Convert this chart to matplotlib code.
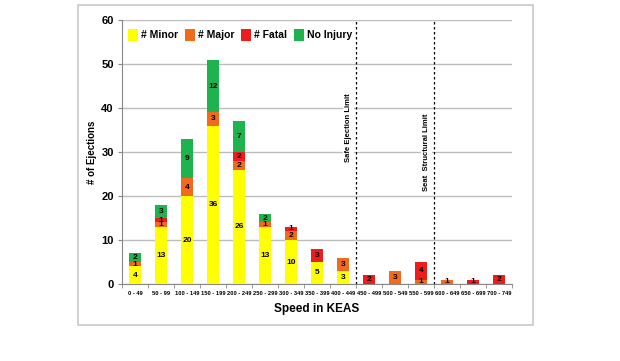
import numpy as np
import matplotlib.pyplot as plt
from matplotlib.patches import Rectangle

cats = ['0 - 49', '50 - 99', '100 - 149', '150 - 199', '200 - 249', '250 - 299',
        '300 - 349', '350 - 399', '400 - 449', '450 - 499', '500 - 549',
        '550 - 599', '600 - 649', '650 - 699', '700 - 749']
minor = [4, 13, 20, 36, 26, 13, 10, 5, 3, 0, 0, 0, 0, 0, 0]
major = [1, 1, 4, 3, 2, 1, 2, 0, 3, 0, 3, 1, 1, 0, 0]
fatal = [0, 1, 0, 0, 2, 0, 1, 3, 0, 2, 0, 4, 0, 1, 2]
no_injury = [2, 3, 9, 12, 7, 2, 0, 0, 0, 0, 0, 0, 0, 0, 0]

series = [('# Minor', minor, '#ffff00'),
          ('# Major', major, '#f26b1d'),
          ('# Fatal', fatal, '#ee1c1c'),
          ('No Injury', no_injury, '#1db34f')]

plt.rcParams['font.family'] = ['Liberation Sans', 'DejaVu Sans']

fig = plt.figure(figsize=(6.2, 3.61), dpi=100)
fig.patches.append(Rectangle((78 / 620, 1 - 325 / 361), (533 - 78) / 620, (325 - 5) / 361,
                             transform=fig.transFigure, fill=False,
                             edgecolor='#c8c8c8', lw=1.2))
ax = fig.add_axes([122 / 620, 1 - 284 / 361, (512 - 122) / 620, (284 - 20) / 361])

x = np.arange(len(cats))
bottom = np.zeros(len(cats))
for name, vals, col in series:
    vals = np.array(vals)
    ax.bar(x, vals, 0.46, bottom=bottom, color=col, label=name, zorder=3)
    for xi, v, b in zip(x, vals, bottom):
        if v > 0:
            ax.text(xi, b + v / 2, str(v), ha='center', va='center',
                    fontsize=6, fontweight='bold', zorder=4)
    bottom += vals

ax.set_xlim(-0.5, len(cats) - 0.5)
ax.set_ylim(0, 60)
ax.set_yticks(range(0, 61, 10))
ax.yaxis.grid(True, color='#bdbdbd', lw=1, zorder=0)
ax.set_xticks(x)
ax.set_xticklabels(cats, fontsize=4.15, fontweight='bold')
ax.set_xticks(np.arange(-0.5, len(cats), 1), minor=True)
ax.tick_params(axis='x', which='major', length=0, pad=5)
ax.tick_params(axis='x', which='minor', length=3, color='#888888')
ax.tick_params(axis='y', labelsize=8, length=3, color='#888888', pad=3)
for t in ax.get_yticklabels():
    t.set_fontweight('bold')
for s in ['top', 'right']:
    ax.spines[s].set_visible(False)
ax.spines['left'].set_color('#888888')
ax.spines['bottom'].set_color('#888888')

ax.set_ylabel('# of Ejections', fontsize=7, fontweight='bold', labelpad=3)
ax.set_xlabel('Speed in KEAS', fontsize=8.5, fontweight='bold', labelpad=5)

for xv, label, ytxt in [(8.5, 'Safe Ejection Limit', 35.5), (11.5, 'Seat  Structural Limit', 30)]:
    ax.axvline(xv, color='black', ls=(0, (2, 2)), lw=0.9, zorder=5)
    ax.text(xv - 0.3, ytxt, label, rotation=90, ha='center', va='center',
            fontsize=5.5, fontweight='bold', zorder=4,
            bbox=dict(facecolor='white', edgecolor='none', pad=1.5))

leg = ax.legend(loc='upper left', ncol=4, frameon=False, fontsize=7.5,
                bbox_to_anchor=(0.0, 0.99), handlelength=0.9, handleheight=1.4,
                columnspacing=0.7, handletextpad=0.3, borderaxespad=0.2)
for t in leg.get_texts():
    t.set_fontweight('bold')

fig.savefig('out.png', dpi=100)
